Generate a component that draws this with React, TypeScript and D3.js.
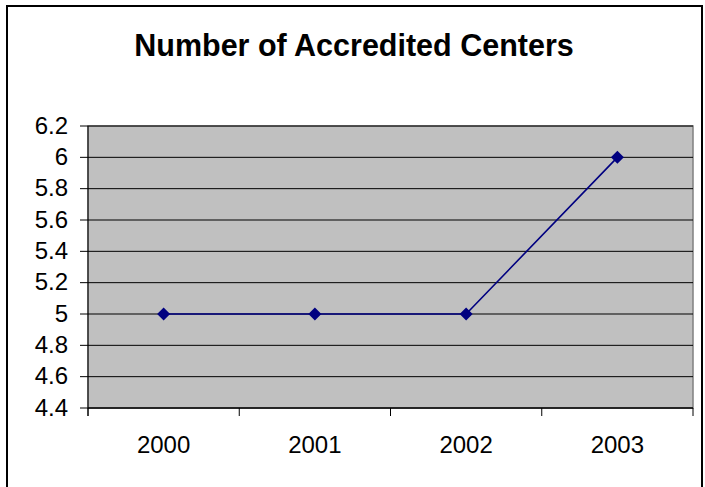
import React from "react";
import * as d3 from "d3";

const categories = ["2000", "2001", "2002", "2003"];
const values = [5, 5, 5, 6];
const yTicks = [4.4, 4.6, 4.8, 5, 5.2, 5.4, 5.6, 5.8, 6, 6.2];
const title = "Number of Accredited Centers";

export default function App() {
  const W = 705, H = 487;
  const left = 88, right = 693, top = 126, bottom = 408;
  const x = d3.scaleBand().domain(categories).range([left, right]).padding(0);
  const y = d3.scaleLinear().domain([4.4, 6.2]).range([bottom, top]);
  const line = d3
    .line<number>()
    .x((_, i) => (x(categories[i]) as number) + x.bandwidth() / 2)
    .y((d) => y(d));
  const font = "'Liberation Sans', Arial, sans-serif";
  const bounds = categories.map((c) => x(c) as number).concat([right]);
  return (
    <svg
      width={W}
      height={H}
      style={{ position: "absolute", left: 0, top: 0, background: "#fff" }}
      fontFamily={font}
    >
      <rect x={7} y={6} width={695} height={490} fill="#fff" stroke="#000" strokeWidth={2} />
      <text x={354} y={56} textAnchor="middle" fontSize={30.5} fontWeight="bold" fill="#000">
        {title}
      </text>
      <rect x={left} y={top} width={right - left} height={bottom - top} fill="#C0C0C0" stroke="#808080" strokeWidth={1.5} />
      {yTicks.map((t) => (
        <g key={t}>
          <line x1={left} x2={right} y1={y(t)} y2={y(t)} stroke="#000" strokeWidth={1} />
          <line x1={80} x2={left} y1={y(t)} y2={y(t)} stroke="#000" strokeWidth={1} />
          <text x={68} y={y(t) + 7.5} textAnchor="end" fontSize={24} fill="#000">
            {String(t)}
          </text>
        </g>
      ))}
      <line x1={left} x2={left} y1={top} y2={bottom + 8} stroke="#000" strokeWidth={1} />
      <line x1={left} x2={right} y1={bottom} y2={bottom} stroke="#000" strokeWidth={1} />
      {bounds.map((b, i) => (
        <line key={i} x1={b} x2={b} y1={bottom} y2={bottom + 8} stroke="#000" strokeWidth={1} />
      ))}
      {categories.map((c) => (
        <text key={c} x={(x(c) as number) + x.bandwidth() / 2} y={453} textAnchor="middle" fontSize={24} fill="#000">
          {c}
        </text>
      ))}
      <path d={line(values) || ""} fill="none" stroke="#000080" strokeWidth={1.6} />
      {values.map((v, i) => {
        const cx = (x(categories[i]) as number) + x.bandwidth() / 2;
        const cy = y(v);
        const s = 6.5;
        return (
          <path key={i} d={`M${cx},${cy - s}L${cx + s},${cy}L${cx},${cy + s}L${cx - s},${cy}Z`} fill="#000080" />
        );
      })}
    </svg>
  );
}
